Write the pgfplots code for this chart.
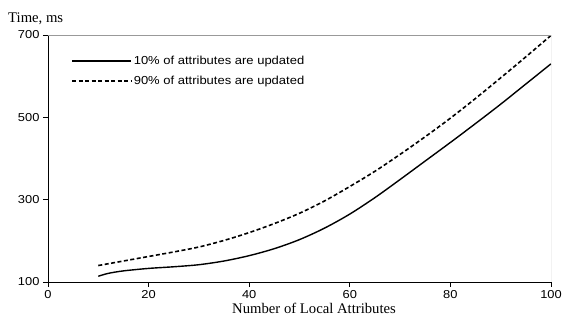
\documentclass[border=0pt]{standalone}
\usepackage{fontspec}
\setmainfont{Liberation Serif}
\newfontfamily\arial[FakeStretch=1.12]{Liberation Sans}
\usepackage{pgfplots}
\pgfplotsset{compat=1.18}
\begin{document}
\begin{tikzpicture}
\begin{axis}[
  at={(48pt,42pt)}, anchor=south west,
  width=503pt, height=247pt, scale only axis,
  xmin=0, xmax=100, ymin=100, ymax=700,
  xtick={0,20,40,60,80,100},
  ytick={100,300,500,700},
  axis x line*=bottom, axis y line*=left,
  axis line style={black, line width=0.8pt},
  tick align=outside, major tick length=5pt,
  tick style={black, line width=0.8pt},
  /pgf/number format/assume math mode=true,
  ticklabel style={font=\arial\fontsize{11.5}{13}\selectfont},
  legend style={draw=none, fill=none, at={(axis description cs:0,1)}, anchor=north west,
    xshift=23pt, yshift=-19pt, font=\arial\fontsize{11.6}{13}\selectfont,
    inner sep=0pt, row sep=6pt},
  legend cell align=left,
  legend image code/.code={\draw[#1] (0pt,0pt) -- (59pt,0pt);},
]
\addplot[black, line width=1.4pt, smooth] coordinates {
(10,114) (12,121) (15,127) (20,133) (25,137) (30,142) (35,151) (40,164) (45,181) (50,203)
(55,231) (60,265) (65,305) (70,349) (75,394) (80,439) (85,485) (90,532) (95,581) (100,630)};
\addlegendentry{10\% of attributes are updated}
\addplot[black, line width=1.6pt, dash pattern=on 4pt off 2.5pt, smooth] coordinates {
(10,140) (15,151) (20,162) (25,173) (30,185) (35,201) (40,220) (45,242) (50,267)
(55,297) (60,332) (65,369) (70,410) (75,453) (80,498) (85,546) (90,596) (95,647) (100,699)};
\addlegendentry{90\% of attributes are updated}
\draw[gray!80, line width=0.8pt] (rel axis cs:0,1) -- (rel axis cs:1,1) -- (rel axis cs:1,0);
\end{axis}
\node[anchor=base west, inner sep=0pt, font=\fontsize{14.7}{17}\selectfont] at (8pt,301pt) {Time, ms};
\node[anchor=base, inner sep=0pt, font=\fontsize{14.7}{17}\selectfont] at (314pt,11pt) {Number of Local Attributes};
\pgfresetboundingbox
\useasboundingbox (0,0) rectangle (562pt,324pt);
\end{tikzpicture}
\end{document}
